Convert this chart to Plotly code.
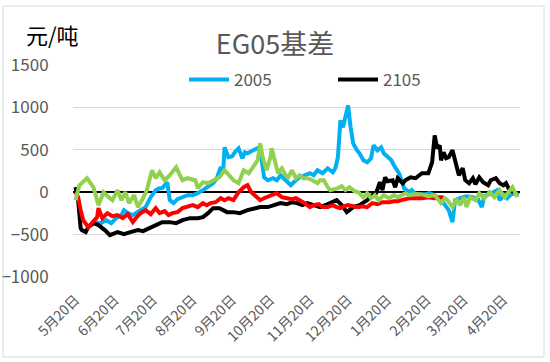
import plotly.graph_objects as go

# ---------------- data ----------------
title_text = "EG05基差"
unit_text = "元/吨"

tick_dates = ["2019-05-20", "2019-06-20", "2019-07-20", "2019-08-20", "2019-09-20", "2019-10-20",
              "2019-11-20", "2019-12-20", "2020-01-20", "2020-02-20", "2020-03-20", "2020-04-20"]
tick_labels = ["5月20日", "6月20日", "7月20日", "8月20日", "9月20日", "10月20日",
               "11月20日", "12月20日", "1月20日", "2月20日", "3月20日", "4月20日"]
y_ticks = [-1000, -500, 0, 500, 1000, 1500]

s2005_name = "2005"
s2005_dates = ["2019-06-05", "2019-06-09", "2019-06-13", "2019-06-17", "2019-06-21", "2019-06-25", "2019-06-27",
               "2019-06-30", "2019-07-04", "2019-07-07", "2019-07-10", "2019-07-14", "2019-07-18", "2019-07-22",
               "2019-07-25", "2019-07-27", "2019-07-31", "2019-08-02", "2019-08-05", "2019-08-08", "2019-08-12",
               "2019-08-16", "2019-08-20", "2019-08-24", "2019-08-28", "2019-09-01", "2019-09-05", "2019-09-08",
               "2019-09-11", "2019-09-13", "2019-09-14", "2019-09-17", "2019-09-20", "2019-09-22", "2019-09-25",
               "2019-09-28", "2019-09-30", "2019-10-02", "2019-10-07", "2019-10-11", "2019-10-13", "2019-10-15",
               "2019-10-18", "2019-10-22", "2019-10-25", "2019-10-28", "2019-11-01", "2019-11-05", "2019-11-09",
               "2019-11-12", "2019-11-16", "2019-11-20", "2019-11-23", "2019-11-26", "2019-11-30", "2019-12-04",
               "2019-12-08", "2019-12-10", "2019-12-12", "2019-12-14", "2019-12-16", "2019-12-19", "2019-12-20",
               "2019-12-22", "2019-12-24", "2019-12-27", "2019-12-29", "2020-01-01", "2020-01-04", "2020-01-07",
               "2020-01-09", "2020-01-12", "2020-01-15", "2020-01-17", "2020-01-21", "2020-01-23", "2020-01-25",
               "2020-01-29", "2020-01-31", "2020-02-02", "2020-02-06", "2020-02-08", "2020-02-10", "2020-02-16",
               "2020-02-22", "2020-02-27", "2020-03-04", "2020-03-08", "2020-03-11", "2020-03-13", "2020-03-17",
               "2020-03-22", "2020-03-27", "2020-03-31", "2020-04-03", "2020-04-05", "2020-04-09", "2020-04-15",
               "2020-04-17", "2020-04-21", "2020-04-23", "2020-04-26", "2020-04-29", "2020-05-02"]
s2005_values = [-353, -365, -329, -365, -306, -270, -212,
                -247, -270, -235, -212, -176, -59, 24,
                47, 47, 118, -94, -129, -82, -59,
                -35, -35, -12, 24, 59, 106, 165,
                294, 259, 529, 412, 423, 470, 517,
                400, 470, 459, 494, 529, 400, 176,
                141, 165, 141, 200, 141, 82, 141,
                176, 200, 223, 200, 259, 223, 282,
                235, 282, 412, 847, 765, 1000, 1023,
                765, 576, 494, 459, 376, 353, 400,
                553, 494, 529, 459, 412, 376, 318,
                223, 141, 47, 0, 24, -12, -35,
                -12, -47, -129, -212, -353, -94, -71,
                -47, -59, -82, -176, -47, -24, 24,
                -94, -35, -71, -24, -12, -35]

s2105_name = "2105"
s2105_dates = ["2019-05-20", "2019-05-22", "2019-05-24", "2019-05-25", "2019-05-28", "2019-05-30", "2019-06-03",
               "2019-06-07", "2019-06-12", "2019-06-16", "2019-06-22", "2019-06-27", "2019-07-02", "2019-07-08",
               "2019-07-12", "2019-07-18", "2019-07-22", "2019-07-27", "2019-08-02", "2019-08-07", "2019-08-12",
               "2019-08-18", "2019-08-24", "2019-08-28", "2019-09-01", "2019-09-05", "2019-09-10", "2019-09-16",
               "2019-09-21", "2019-09-26", "2019-10-02", "2019-10-07", "2019-10-12", "2019-10-18", "2019-10-22",
               "2019-10-28", "2019-11-02", "2019-11-06", "2019-11-10", "2019-11-14", "2019-11-18", "2019-11-23",
               "2019-11-28", "2019-12-04", "2019-12-08", "2019-12-11", "2019-12-15", "2019-12-19", "2019-12-24",
               "2019-12-29", "2020-01-04", "2020-01-08", "2020-01-11", "2020-01-14", "2020-01-16", "2020-01-18",
               "2020-01-20", "2020-01-24", "2020-01-26", "2020-01-28", "2020-02-01", "2020-02-03", "2020-02-07",
               "2020-02-11", "2020-02-16", "2020-02-21", "2020-02-24", "2020-02-26", "2020-02-28", "2020-03-01",
               "2020-03-02", "2020-03-04", "2020-03-06", "2020-03-08", "2020-03-11", "2020-03-14", "2020-03-16",
               "2020-03-19", "2020-03-21", "2020-03-24", "2020-03-27", "2020-03-29", "2020-04-01", "2020-04-04",
               "2020-04-08", "2020-04-10", "2020-04-14", "2020-04-17", "2020-04-20", "2020-04-22", "2020-04-24",
               "2020-04-28"]
s2105_values = [59, -94, -423, -447, -470, -412, -365,
                -388, -447, -506, -470, -494, -470, -447,
                -459, -412, -388, -353, -353, -365, -329,
                -306, -306, -294, -247, -188, -188, -235,
                -235, -247, -212, -188, -176, -176, -153,
                -129, -141, -118, -129, -153, -129, -153,
                -176, -141, -118, -94, -153, -235, -176,
                -153, -94, -35, -12, 118, 24, 176,
                130, 141, 59, 165, 106, 141, 176,
                165, 223, 223, 353, 670, 517, 553,
                376, 470, 400, 412, 494, 341, 200,
                282, 141, 106, 165, 94, 176, 118,
                82, 141, 165, 106, 82, 106, 47,
                0]

red_dates = ["2019-05-20", "2019-05-22", "2019-05-24", "2019-05-26", "2019-05-30", "2019-06-03", "2019-06-06",
             "2019-06-07", "2019-06-10", "2019-06-14", "2019-06-18", "2019-06-22", "2019-06-26", "2019-06-30",
             "2019-07-04", "2019-07-07", "2019-07-10", "2019-07-14", "2019-07-18", "2019-07-22", "2019-07-25",
             "2019-07-29", "2019-08-01", "2019-08-04", "2019-08-08", "2019-08-12", "2019-08-16", "2019-08-20",
             "2019-08-24", "2019-08-28", "2019-08-31", "2019-09-03", "2019-09-07", "2019-09-11", "2019-09-14",
             "2019-09-17", "2019-09-21", "2019-09-25", "2019-09-29", "2019-10-02", "2019-10-05", "2019-10-08",
             "2019-10-12", "2019-10-15", "2019-10-18", "2019-10-21", "2019-10-25", "2019-10-29", "2019-11-02",
             "2019-11-06", "2019-11-09", "2019-11-12", "2019-11-16", "2019-11-20", "2019-11-23", "2019-11-27",
             "2019-11-30", "2019-12-04", "2019-12-08", "2019-12-11", "2019-12-14", "2019-12-17", "2019-12-20",
             "2019-12-24", "2019-12-28", "2019-12-31", "2020-01-04", "2020-01-08", "2020-01-12", "2020-01-16",
             "2020-01-21", "2020-01-25", "2020-01-28", "2020-01-31", "2020-02-03", "2020-02-06", "2020-02-10",
             "2020-02-16", "2020-02-21", "2020-02-26", "2020-03-01", "2020-03-04"]
red_values = [0, -59, -212, -329, -412, -353, -294,
              -188, -306, -247, -282, -270, -306, -259,
              -353, -294, -247, -212, -259, -188, -247,
              -224, -270, -247, -235, -188, -176, -153,
              -176, -129, -153, -129, -118, -71, -94,
              -71, -94, 0, 59, 82, 0, -35,
              -94, -71, -59, -35, -12, -59, -71,
              -82, -71, -94, -129, -176, -153, -141,
              -176, -176, -153, -176, -188, -165, -153,
              -165, -176, -165, -176, -129, -141, -118,
              -118, -106, -106, -94, -82, -71, -71,
              -71, -59, -71, -59, -59]

green_dates = ["2019-05-20", "2019-05-23", "2019-05-29", "2019-06-03", "2019-06-07", "2019-06-11", "2019-06-15",
               "2019-06-18", "2019-06-22", "2019-06-25", "2019-06-28", "2019-07-01", "2019-07-05", "2019-07-08",
               "2019-07-12", "2019-07-15", "2019-07-19", "2019-07-22", "2019-07-25", "2019-07-29", "2019-08-02",
               "2019-08-07", "2019-08-10", "2019-08-12", "2019-08-16", "2019-08-22", "2019-08-24", "2019-08-28",
               "2019-09-01", "2019-09-05", "2019-09-10", "2019-09-14", "2019-09-19", "2019-09-21", "2019-09-25",
               "2019-09-29", "2019-10-03", "2019-10-06", "2019-10-10", "2019-10-12", "2019-10-14", "2019-10-17",
               "2019-10-20", "2019-10-21", "2019-10-24", "2019-10-26", "2019-10-29", "2019-11-01", "2019-11-03",
               "2019-11-06", "2019-11-09", "2019-11-12", "2019-11-15", "2019-11-18", "2019-11-22", "2019-11-26",
               "2019-11-28", "2019-12-01", "2019-12-04", "2019-12-06", "2019-12-12", "2019-12-15", "2019-12-18",
               "2019-12-21", "2019-12-25", "2019-12-28", "2020-01-01", "2020-01-04", "2020-01-07", "2020-01-10",
               "2020-01-13", "2020-01-17", "2020-01-21", "2020-01-25", "2020-01-28", "2020-01-31", "2020-02-03",
               "2020-02-06", "2020-02-10", "2020-02-16", "2020-02-21", "2020-02-26", "2020-03-02", "2020-03-05",
               "2020-03-07", "2020-03-11", "2020-03-14", "2020-03-17", "2020-03-20", "2020-03-22", "2020-03-25",
               "2020-03-29", "2020-04-01", "2020-04-05", "2020-04-09", "2020-04-13", "2020-04-17", "2020-04-21",
               "2020-04-25", "2020-04-27", "2020-05-01"]
green_values = [-94, 82, 165, 59, -153, 0, -59,
                -94, 24, -94, 0, -129, -35, -176,
                -71, 24, 259, 165, 235, 141, 200,
                294, 200, 141, 165, 141, 47, 118,
                106, 141, 176, 259, 165, 141, 106,
                259, 223, 294, 376, 576, 412, 259,
                412, 517, 318, 223, 282, 200, 176,
                259, 165, 200, 165, 165, 141, 106,
                141, 141, 59, 24, 47, 71, 24,
                59, 12, 0, -59, -12, -71, -35,
                -94, -35, -71, -35, -59, -35, -12,
                -35, -24, -24, -47, -35, -129, -71,
                -94, -176, -82, -153, -59, -176, -59,
                -94, -12, -71, 0, -59, 24, -59,
                24, 59, -59]

# ---------------- figure ----------------
FONT = "Noto Sans CJK SC"
GREY = "#595959"
L, R, T, B = 73, 30, 65, 85
PW, PH = 550 - L - R, 362 - T - B

fig = go.Figure()
fig.add_trace(go.Scatter(x=s2005_dates, y=s2005_values, name=s2005_name, mode="lines",
                         line=dict(color="#00B0F0", width=4)))
fig.add_trace(go.Scatter(x=s2105_dates, y=s2105_values, name=s2105_name, mode="lines",
                         line=dict(color="#000000", width=4)))
fig.add_trace(go.Scatter(x=red_dates, y=red_values, mode="lines", showlegend=False,
                         line=dict(color="#FF0000", width=4)))
fig.add_trace(go.Scatter(x=green_dates, y=green_values, mode="lines", showlegend=False,
                         line=dict(color="#92D050", width=4)))

fig.update_layout(
    width=550, height=362,
    margin=dict(l=L, r=R, t=T, b=B, autoexpand=False),
    paper_bgcolor="white", plot_bgcolor="white",
    font=dict(family=FONT, color=GREY),
    title=dict(text=title_text, x=0.5, xref="container", xanchor="center",
               y=1 - 45 / 362, yref="container", yanchor="middle",
               font=dict(size=27, color=GREY, family=FONT)),
    legend=dict(orientation="h", x=(184 - L) / PW, xanchor="left", y=(277 - 80) / PH, yanchor="middle",
                bgcolor="rgba(0,0,0,0)", font=dict(size=17, color=GREY, family=FONT),
                entrywidth=94, entrywidthmode="pixels", itemwidth=40),
    showlegend=True,
)
fig.update_xaxes(
    type="date", range=["2019-05-18", "2020-05-03"], automargin=False,
    tickvals=tick_dates, ticktext=tick_labels, tickangle=-45,
    tickfont=dict(size=14, color=GREY, family=FONT),
    ticks="outside", ticklen=8, tickcolor="rgba(0,0,0,0)",
    showgrid=False, showline=False, zeroline=False,
)
fig.update_yaxes(
    range=[-1000, 1500], tickvals=y_ticks, automargin=False,
    tickfont=dict(size=17, color=GREY, family=FONT),
    ticks="outside", ticklen=20, tickcolor="rgba(0,0,0,0)",
    showgrid=True, gridcolor="#D9D9D9", gridwidth=1,
    zeroline=True, zerolinecolor="#000000", zerolinewidth=2,
    showline=False,
)

fig.add_annotation(text=unit_text, xref="paper", yref="paper",
                   x=(24 - L) / PW, y=(277 - 34) / PH, xanchor="left", yanchor="middle",
                   showarrow=False, font=dict(size=22, color="#000000", family=FONT))

# chart-area border
fig.add_shape(type="rect", xref="paper", yref="paper",
              x0=(3 - L) / PW, x1=(544 - L) / PW,
              y0=(277 - 357) / PH, y1=(277 - 6) / PH,
              line=dict(color="#D9D9D9", width=1), fillcolor="rgba(0,0,0,0)", layer="above")

fig.write_html("out.html", config={"displayModeBar": False},
               post_script="document.body.style.margin='0px';document.body.style.overflow='hidden';")
